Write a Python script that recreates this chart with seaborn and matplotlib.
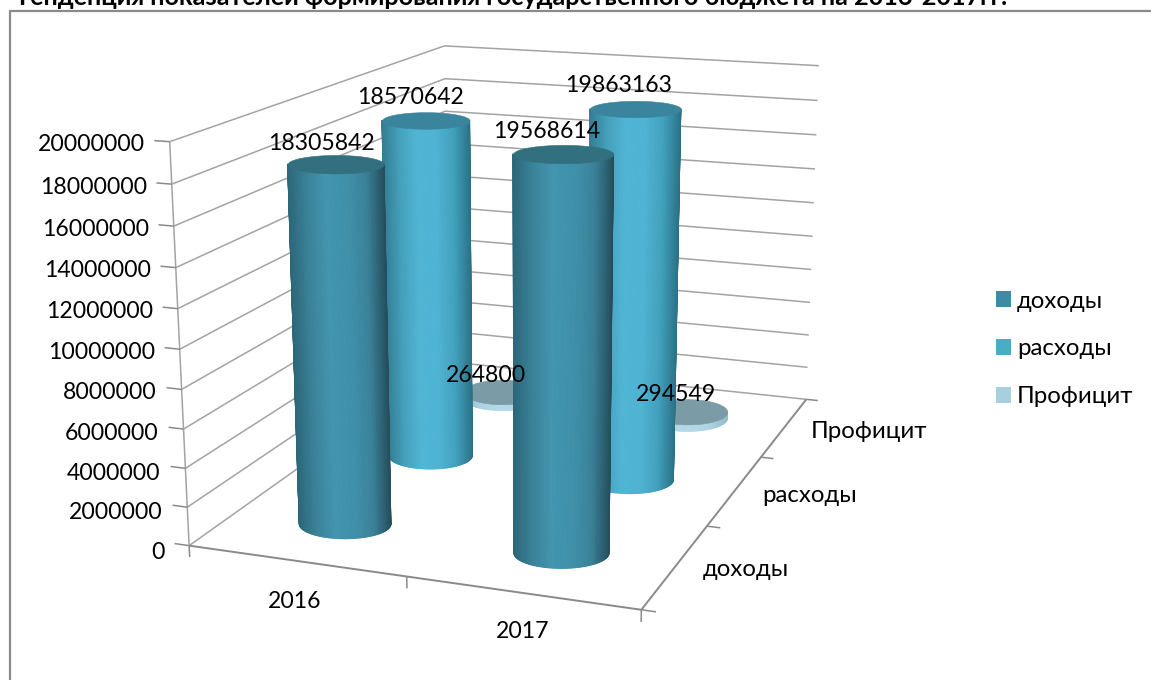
import numpy as np
import seaborn as sns
import matplotlib
matplotlib.use("Agg")
import matplotlib.pyplot as plt
from matplotlib.patches import Patch
from matplotlib.lines import Line2D
from mpl_toolkits.mplot3d.art3d import Poly3DCollection, Line3DCollection

years = ["2016", "2017"]
series = ["доходы", "расходы", "Профицит"]
income = [18305842, 19568614]
expenses = [18570642, 19863163]
surplus = [264800, 294549]
y_ticks = [0, 2000000, 4000000, 6000000, 8000000, 10000000,
           12000000, 14000000, 16000000, 18000000, 20000000]

W, H = 1151, 680
ZMAX = 20000000
FS = 16.6
FS_WORDS = 17.3
GRID = "#a3a3a3"
AXIS = "#8a8a8a"

sns.set_theme(style="white")
plt.rcParams["font.family"] = ["Lato", "Open Sans", "DejaVu Sans"]

fig = plt.figure(figsize=(W / 100, H / 100), dpi=100, facecolor="white")
# square 3d axes as wide as the figure, the box itself is turned off
side = W / H
ax = fig.add_axes([0, (1 - side) / 2, 1, side], projection="3d", computed_zorder=False)
ax.set_axis_off()
ax.apply_aspect()

# frame corners of the excel box: world (year, series, value share) -> picture pixel
world_pts = [(0, 0, 0), (2, 0, 0), (2, 3, 0), (0, 3, 0), (0, 0, 1), (0, 3, 1), (2, 3, 1),
             (0, 0, .9), (2, 3, .9), (2, 3, .5), (0, 3, .9)]
pixel_pts = [(187, 548), (641, 608), (805, 401), (451, 359), (171, 141), (443, 46), (820, 65),
             (173, 184), (818, 100), (813, 237), (443, 80)]

A = []
for (x, y, z), (u, v) in zip(world_pts, pixel_pts):
    A.append([x, y, z, 1, 0, 0, 0, 0, -u * x, -u * y, -u * z, -u])
    A.append([0, 0, 0, 0, x, y, z, 1, -v * x, -v * y, -v * z, -v])
P = np.linalg.svd(np.array(A))[2][-1].reshape(3, 4)
if P[2] @ np.array([1, 1.5, 0, 1]) < 0:
    P = -P
P = P @ np.diag([1, 1, 1 / ZMAX, 1])


def to_px(x, y, z):
    p = P @ np.array([x, y, z, 1.0])
    return p[:2] / p[2], p[2]


# same projection, written for the 2d limits that the 3d axes keeps
flip = np.array([[1, 0, 0], [0, -1, H], [0, 0, 1.0]])
P2 = ax.transData.inverted().get_matrix() @ flip @ P
w_row = P2[2]
M = np.vstack([P2[0], P2[1], w_row - np.array([0, 0, 0, 0.5 * (w_row @ [1, 1.5, 0, 1])]), w_row])
ax.get_proj = lambda: M

w_ref = to_px(1, 1.5, 0)[1]


def ring(x, y, z, angles):
    # world points of a circle that looks like a flat ellipse on the picture
    e = 1e-3
    c, w = to_px(x, y, z)
    J = np.column_stack([(to_px(x + e, y, z)[0] - c) / e, (to_px(x, y + e, z)[0] - c) / e])
    Ji = np.linalg.inv(J)
    r = 42.5 * w_ref / w
    rv = r * (0.32 - 0.14 * z / ZMAX)
    d = Ji @ np.vstack([r * np.cos(angles), rv * np.sin(angles)])
    return x + d[0], y + d[1], np.full(len(angles), float(z))


def cylinder(x, y, value, stops, top_color, order):
    angles = np.linspace(0, np.pi, 90)
    x0, y0, z0 = ring(x, y, -120000, angles)  # excel lets the base sink a little
    x1, y1, z1 = ring(x, y, value, angles)
    shades = sns.blend_palette(stops, n_colors=101)
    mid = (angles[:-1] + angles[1:]) / 2
    idx = ((np.cos(mid) + 1) * 50).astype(int)
    cols = np.array([shades[i] + (1,) for i in idx])[None, :, :]
    surf = ax.plot_surface(np.vstack([x0, x1]), np.vstack([y0, y1]), np.vstack([z0, z1]),
                           facecolors=cols, rstride=1, cstride=1, shade=False,
                           linewidth=0.7, antialiased=True, zorder=order)
    surf.set_edgecolor(cols[0])
    full = np.linspace(0, 2 * np.pi, 120)
    cx, cy, cz = ring(x, y, value, full)
    cap = Poly3DCollection([list(zip(cx, cy, cz))], facecolor=top_color, edgecolor=top_color,
                           linewidth=0.4, zorder=order + 0.5)
    ax.add_collection3d(cap)


# walls
grid_segs = []
tick_segs = []
for v in y_ticks:
    grid_segs.append([(0, 0, v), (0, 3, v), (2, 3, v)])
    tick_segs.append([(-0.07, 0, v), (0, 0, v)])
grid_segs.append([(0, 0, 0), (0, 0, ZMAX)])
for i in range(3):
    tick_segs.append([(i, 0, 0), (i, 0, -ZMAX * 0.03)])
for j in range(4):
    tick_segs.append([(2, j, 0), (2.06, j, 0)])
ax.add_collection3d(Line3DCollection(grid_segs, colors=GRID, linewidths=1.1, zorder=1), autolim=False)
ax.add_collection3d(Line3DCollection(tick_segs, colors=AXIS, linewidths=1.1, zorder=1), autolim=False)
ax.add_collection3d(Line3DCollection([[(0, 0, 0), (2, 0, 0), (2, 3, 0)]], colors=AXIS, linewidths=1.4, zorder=1),
                    autolim=False)

income_stops = ["#2c6779", "#3a8299", "#4295b0", "#3f90aa", "#3a8199", "#244b58"]
expense_stops = ["#347d92", "#44a0bb", "#50b5d4", "#4fb3d3", "#41a0bc", "#2a6f84"]
surplus_stops = ["#8fbccc", "#aed4e3", "#b4d9e8", "#aed4e3", "#8fbccc"]

for i, year in enumerate(years):
    cylinder(i + 0.5, 2.5, surplus[i], surplus_stops, "#7b9ba6", 2 + i)
    cylinder(i + 0.5, 1.5, expenses[i], expense_stops, "#3a859d", 4 + i)
    cylinder(i + 0.5, 0.5, income[i], income_stops, "#33707f", 6 + i)


def put(px, py, s, size=FS, **kw):
    return fig.text(px / W, 1 - py / H, s, color="black", fontsize=size, zorder=20, **kw)


for v in y_ticks:
    (tx, ty), _ = to_px(0, 0, v)
    put(tx - 25, ty + 3 + 4 * (1 - v / ZMAX) ** 4, str(v), ha="right", va="center")

# hand placed data labels, excel puts them off the centres
label_xy = {income[0]: (321, 143), expenses[0]: (411, 98), income[1]: (547, 132),
            expenses[1]: (619, 85), surplus[0]: (486, 375), surplus[1]: (676, 394)}
for val, (px, py) in label_xy.items():
    put(px, py, str(val), ha="center", va="center")

put(295, 601, years[0], ha="center", va="center")
put(523, 632, years[1], ha="center", va="center")
put(703, 569, series[0], size=FS_WORDS, ha="left", va="center")
put(762, 495, series[1], size=FS_WORDS, ha="left", va="center")
put(811, 431, series[2], size=FS_WORDS, ha="left", va="center")

# the source image cuts this title at its top edge
fig.text(15 / W, 1 - 5 / H, "Тенденция показателей формирования государственного бюджета на 2016-2017гг.",
         fontsize=18.1, fontweight="bold", color="black", ha="left", va="baseline")

# outer chart border, cut by the image on the right and at the bottom
fig.add_artist(Line2D([10 / W, 10 / W, 1], [0, 1 - 11 / H, 1 - 11 / H], color="#8a8a8a", lw=1.6))

handles = [Patch(facecolor=c, edgecolor="none") for c in ["#3d8ca6", "#4bacc6", "#a8cfde"]]
fig.legend(handles, series, loc="center left", bbox_to_anchor=(996 / W, 1 - 349 / H), frameon=False,
           fontsize=FS_WORDS, labelcolor="black", handlelength=0.62, handleheight=0.62,
           handletextpad=0.25, labelspacing=1.12, borderpad=0, borderaxespad=0)

fig.savefig("out.png", dpi=100)
